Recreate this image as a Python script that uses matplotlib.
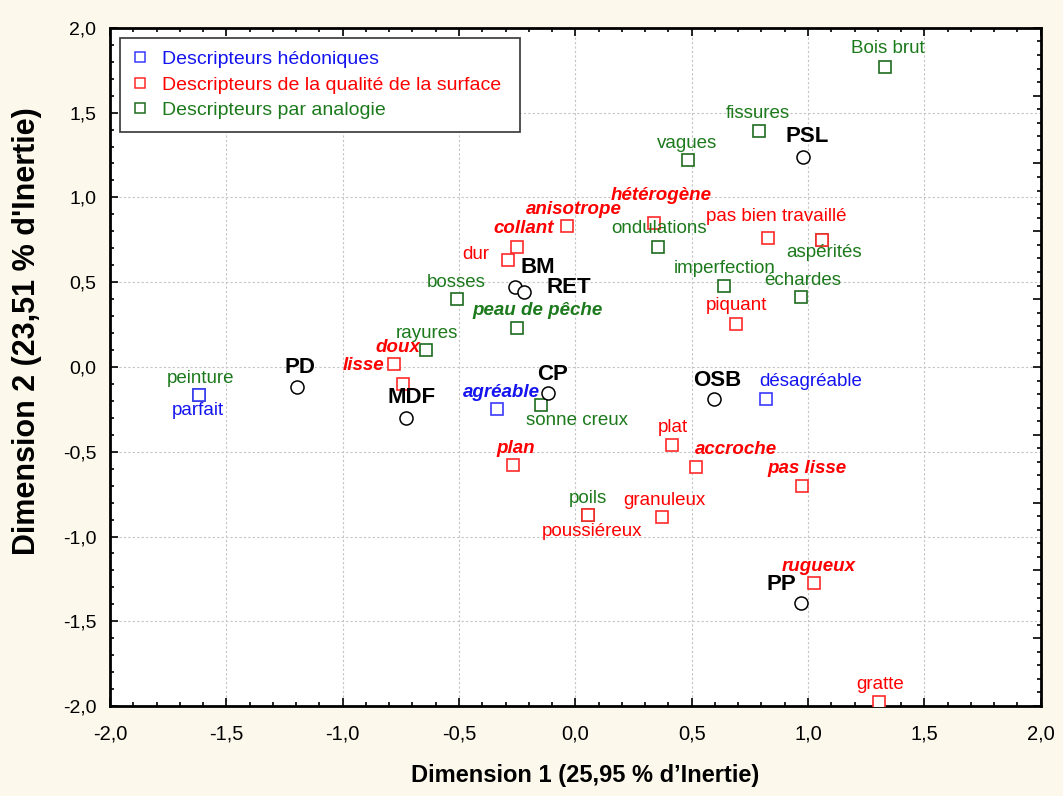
import matplotlib
matplotlib.use('Agg')
import matplotlib.pyplot as plt
from matplotlib import font_manager as fm
from matplotlib.lines import Line2D
from matplotlib.ticker import MultipleLocator, FuncFormatter

# descriptor points (squares)
desc_names = ['Bois brut', 'fissures', 'vagues', 'ondulations', 'aspérités', 'imperfection',
              'échardes', 'bosses', 'peau de pêche', 'rayures', 'peinture', 'sonne creux', 'poils',
              'hétérogène', 'anisotrope', 'collant', 'dur', 'pas bien travaillé', '', 'piquant',
              'doux', 'lisse', 'plan', 'plat', 'accroche', 'pas lisse', 'poussiéreux', 'granuleux',
              'rugueux', 'gratte',
              'parfait', 'agréable', 'désagréable']
desc_x = [1.33, 0.79, 0.486, 0.357, 1.06, 0.64,
          0.97, -0.51, -0.25, -0.64, -1.617, -0.146, 0.056,
          0.34, -0.034, -0.249, -0.29, 0.83, 1.06, 0.69,
          -0.78, -0.74, -0.267, 0.417, 0.52, 0.976, 0.056, 0.374,
          1.024, 1.307,
          -1.617, -0.336, 0.82]
desc_y = [1.77, 1.39, 1.22, 0.71, 0.75, 0.48,
          0.41, 0.40, 0.23, 0.10, -0.168, -0.227, -0.875,
          0.85, 0.83, 0.71, 0.63, 0.76, 0.75, 0.255,
          0.02, -0.10, -0.58, -0.46, -0.59, -0.70, -0.875, -0.887,
          -1.275, -1.975,
          -0.168, -0.25, -0.19]
desc_group = ['analogie'] * 13 + ['surface'] * 17 + ['hedonique'] * 3

# products (circles)
prod_names = ['PSL', 'BM', 'RET', 'PD', 'MDF', 'CP', 'OSB', 'PP']
prod_x = [0.98, -0.258, -0.219, -1.196, -0.73, -0.116, 0.598, 0.968]
prod_y = [1.24, 0.474, 0.445, -0.12, -0.30, -0.155, -0.19, -1.394]

legend_labels = ['Descripteurs hédoniques', 'Descripteurs de la qualité de la surface',
                 'Descripteurs par analogie']

# label offsets in pixels (dx, dy) from the marker
offsets = {
    'Bois brut': (3, 18), 'fissures': (-1, 18), 'vagues': (-1, 17), 'ondulations': (1, 18),
    'aspérités': (2, -13), 'imperfection': (0, 17), 'échardes': (2, 17), 'bosses': (0, 17),
    'peau de pêche': (20, 17), 'rayures': (0, 17), 'peinture': (1, 17), 'sonne creux': (36, -15),
    'poils': (0, 17), 'hétérogène': (7, 27), 'anisotrope': (6, 17), 'collant': (6, 18),
    'dur': (-32, 6), 'pas bien travaillé': (8, 22), 'piquant': (1, 18), 'doux': (4, 16),
    'lisse': (-40, 18), 'plan': (2, 17), 'plat': (0, 17), 'accroche': (40, 17),
    'pas lisse': (5, 17), 'poussiéreux': (4, -16), 'granuleux': (2, 17), 'rugueux': (5, 17),
    'gratte': (1, 17), 'parfait': (-1, -15), 'agréable': (4, 17), 'désagréable': (45, 18),
    'PSL': (4, 20), 'BM': (22, 19), 'RET': (44, 4), 'PD': (3, 20), 'MDF': (6, 20),
    'CP': (4, 19), 'OSB': (3, 19), 'PP': (-19, 19),
}
emphasis = {'hétérogène', 'anisotrope', 'collant', 'peau de pêche', 'doux', 'lisse', 'agréable',
            'plan', 'accroche', 'pas lisse', 'rugueux'}

marker_col = {'hedonique': '#3a3aff', 'surface': '#ff2a2a', 'analogie': '#1e6b1e'}
text_col = {'hedonique': '#1414f0', 'surface': '#ff0000', 'analogie': '#1c7a1c'}

installed = {f.name for f in fm.fontManager.ttflist}
base = 'Liberation Sans'
narrow = 'Liberation Sans Narrow' if 'Liberation Sans Narrow' in installed else base
plt.rcParams['font.family'] = [base, 'DejaVu Sans']

fig = plt.figure(figsize=(10.63, 7.96), dpi=100, facecolor='#fdf8ec')
ax = fig.add_axes([0.1035, 0.113, 0.8755, 0.852])
ax.set_facecolor('white')

# draw green first so red/blue squares sit on top
for grp in ['analogie', 'surface', 'hedonique']:
    xs = [x for x, g in zip(desc_x, desc_group) if g == grp]
    ys = [y for y, g in zip(desc_y, desc_group) if g == grp]
    ax.plot(xs, ys, 's', ms=8.6, mfc='white', mec=marker_col[grp], mew=1.2, ls='none', zorder=3)

ax.plot(prod_x, prod_y, 'o', ms=9.4, mfc='white', mec='black', mew=1.1, ls='none', zorder=3)

for name, x, y, g in zip(desc_names, desc_x, desc_y, desc_group):
    if not name:
        continue
    style = dict(fontweight='bold', fontstyle='italic') if name in emphasis else {}
    ax.annotate(name, (x, y), xytext=offsets[name], textcoords='offset pixels',
                ha='center', va='center', fontsize=13.5, color=text_col[g], zorder=4, **style)

for name, x, y in zip(prod_names, prod_x, prod_y):
    ax.annotate(name, (x, y), xytext=offsets[name], textcoords='offset pixels',
                ha='center', va='center', fontsize=16, fontweight='bold', color='black', zorder=4)

ax.set_xlim(-2, 2)
ax.set_ylim(-2, 2)
comma = FuncFormatter(lambda v, p: f'{v:.1f}'.replace('.', ','))
ax.xaxis.set_major_locator(MultipleLocator(0.5))
ax.yaxis.set_major_locator(MultipleLocator(0.5))
ax.xaxis.set_minor_locator(MultipleLocator(0.1))
ax.yaxis.set_minor_locator(MultipleLocator(0.1))
ax.xaxis.set_major_formatter(comma)
ax.yaxis.set_major_formatter(comma)
ax.tick_params(which='both', direction='in', top=True, right=False, width=1.2)
ax.tick_params(which='major', length=6)
ax.tick_params(which='minor', length=3)
ax.tick_params(axis='y', labelsize=14, pad=10)
ax.tick_params(axis='x', labelsize=14.5, pad=13)
for lab in ax.get_xticklabels():
    lab.set_family([narrow, 'DejaVu Sans'])
ax.grid(True, which='major', color='#c4c4c4', ls=(0, (2, 2)), lw=0.8)
for sp in ax.spines.values():
    sp.set_linewidth(2)

# right axis in the original uses its own tick spacing
ax2 = ax.twinx()
ax2.set_ylim(-2, 2)
ax2.yaxis.set_major_locator(MultipleLocator(0.4))
ax2.yaxis.set_minor_locator(MultipleLocator(0.08))
ax2.tick_params(which='both', direction='in', labelright=False, width=1.2)
ax2.tick_params(which='major', length=6)
ax2.tick_params(which='minor', length=3)
for sp in ax2.spines.values():
    sp.set_visible(False)

ax.set_xlabel('Dimension 1 (25,95 % d’Inertie)', fontsize=17, fontweight='bold',
              family=[narrow, 'DejaVu Sans'])
ax.xaxis.set_label_coords(0.510, -0.085)
ax.set_ylabel("Dimension 2 (23,51 % d'Inertie)", fontsize=22, fontweight='bold')
ax.yaxis.set_label_coords(-0.073, 0.553)

handles = [Line2D([], [], marker='s', ls='none', ms=7.5, mfc='white', mew=1.1, mec=marker_col[g])
           for g in ['hedonique', 'surface', 'analogie']]
leg = ax.legend(handles, legend_labels, loc='upper left',
                bbox_to_anchor=(0.0107, 0.80, 0.4297, 0.185), mode='expand',
                borderaxespad=0, fontsize=14, handlelength=0.8, handletextpad=0.72,
                labelspacing=0.4, borderpad=0.65, fancybox=False, framealpha=1,
                labelcolor=[text_col[g] for g in ['hedonique', 'surface', 'analogie']])
leg.get_frame().set_edgecolor('#444444')
leg.get_frame().set_linewidth(1.3)
leg.set_zorder(5)

fig.savefig('out.png', dpi=100, facecolor=fig.get_facecolor())
